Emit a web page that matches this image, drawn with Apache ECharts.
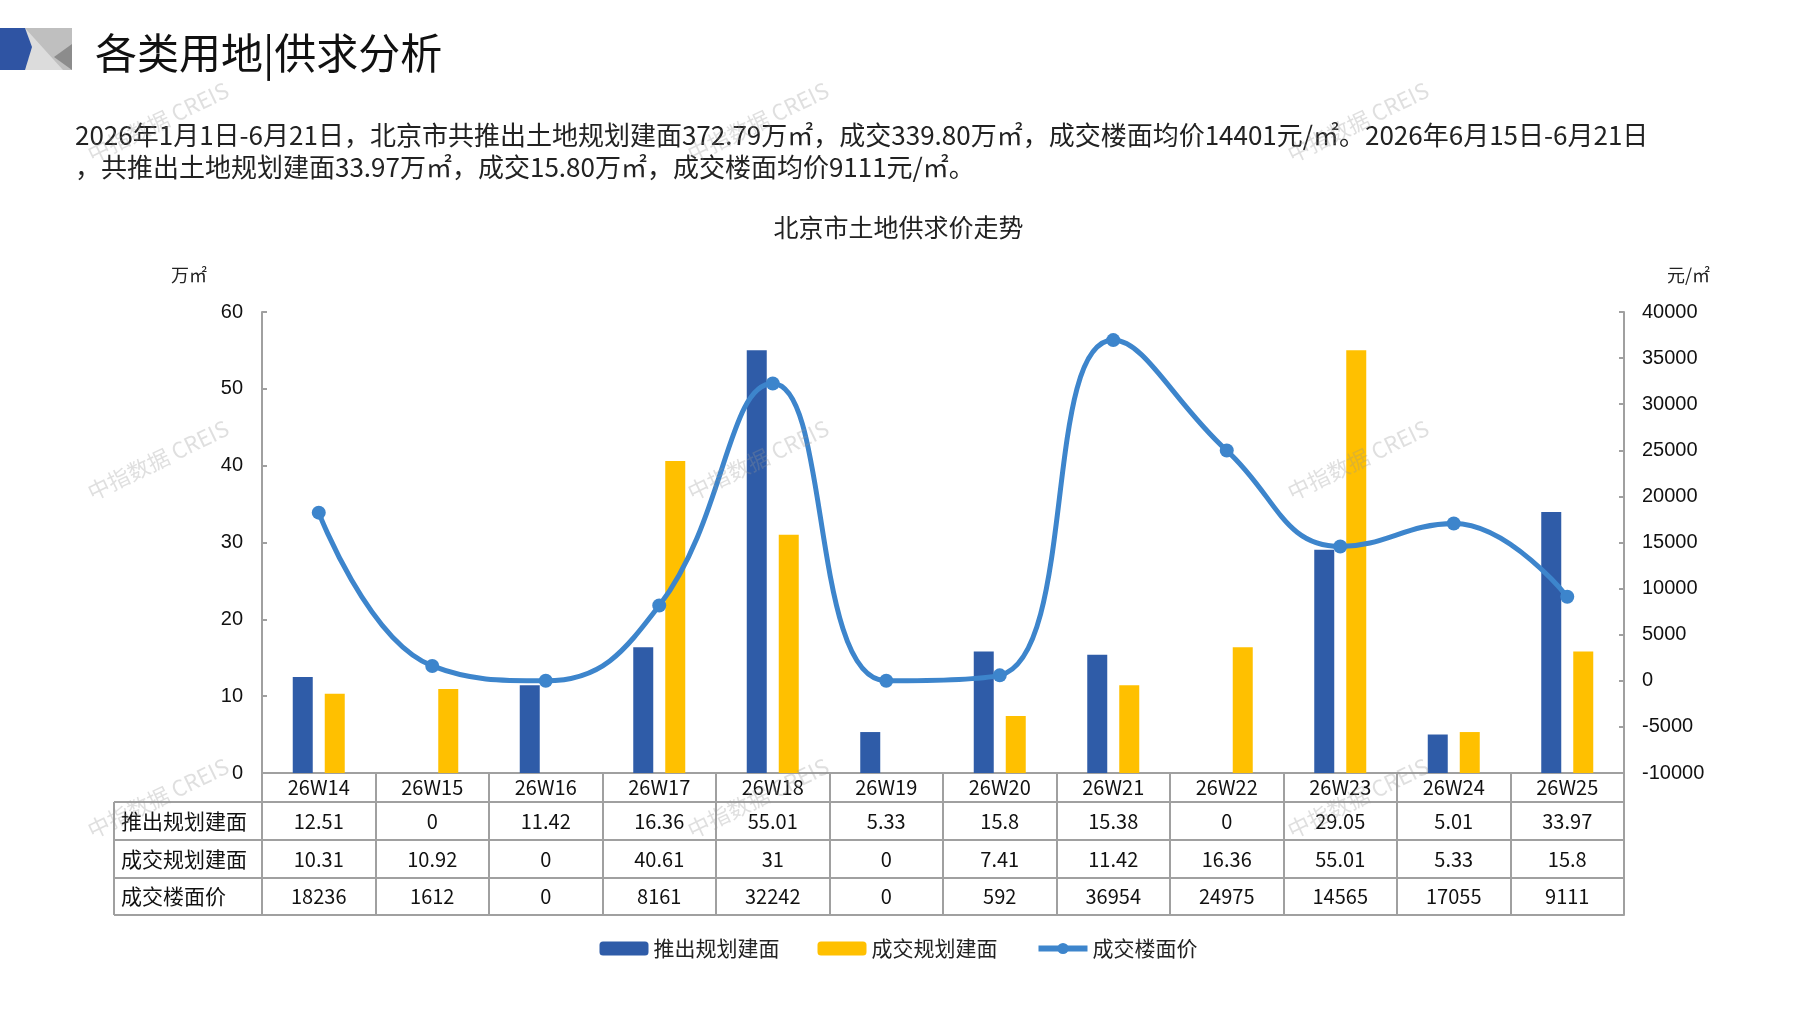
<!DOCTYPE html>
<html>
<head>
<meta charset="utf-8">
<title>北京市土地供求价走势</title>
<script src="https://cdn.jsdelivr.net/npm/echarts@6/dist/echarts.min.js"></script>
<style>
    html, body { margin: 0; padding: 0; background: #fff; }
    #chart { width: 1797px; height: 1010px; }
</style>
</head>
<body>
<div id="chart"></div>
<script>
"use strict";
// 周次
const weeks = ['26W14', '26W15', '26W16', '26W17', '26W18', '26W19', '26W20', '26W21', '26W22', '26W23', '26W24', '26W25'];
// 推出规划建面（万㎡）
const pushArea = [12.51, 0, 11.42, 16.36, 55.01, 5.33, 15.8, 15.38, 0, 29.05, 5.01, 33.97];
// 成交规划建面（万㎡）
const dealArea = [10.31, 10.92, 0, 40.61, 31, 0, 7.41, 11.42, 16.36, 55.01, 5.33, 15.8];
// 成交楼面价（元/㎡）
const dealPrice = [18236, 1612, 0, 8161, 32242, 0, 592, 36954, 24975, 14565, 17055, 9111];
const seriesNames = ['推出规划建面', '成交规划建面', '成交楼面价'];
// 坐标轴刻度
const leftAxisRange = [0, 60, 10];
const rightAxisRange = [-10000, 40000, 5000];

const cjk = '"Noto Sans CJK SC", sans-serif';
const latin = '"Liberation Sans", Arial, sans-serif';
const gray = '#a0a0a0';
const lineBlue = '#3d85cc';
const rowHeights = [29, 38, 38, 37];

(() => {
    let chart = echarts.init(document.getElementById('chart'));

    //数据表：每一行是一条带偏移的类目轴
    let tableRows = [weeks, pushArea, dealArea, dealPrice];
    let xAxes = tableRows.map((row, i) => ({
        type: 'category',
        position: 'bottom',
        offset: rowHeights.slice(0, i).reduce((a, b) => a + b, 0),
        data: row.map(String),
        axisLine: {show: true, onZero: false, lineStyle: {color: gray, width: 2}},
        axisTick: {show: true, interval: 0, length: rowHeights[i], lineStyle: {color: gray, width: 2}},
        axisLabel: {interval: 0, margin: (rowHeights[i] - 20) / 2, fontSize: 20, color: '#111', fontFamily: cjk}
    }));
    xAxes.push({
        type: 'category',
        position: 'bottom',
        offset: rowHeights.reduce((a, b) => a + b, 0),
        data: weeks,
        axisLine: {show: true, onZero: false, lineStyle: {color: gray, width: 2}},
        axisTick: {show: false},
        axisLabel: {show: false}
    });

    //左侧行标题
    let tableTop = 773 + rowHeights[0];
    let graphics = [];
    let y = tableTop;
    graphics.push({type: 'line', shape: {x1: 114, y1: y, x2: 114, y2: 773 + rowHeights.reduce((a, b) => a + b, 0)},
        style: {stroke: gray, lineWidth: 2}});
    for (let i = 0; i < seriesNames.length; ++i) {
        let h = rowHeights[i + 1];
        graphics.push({type: 'line', shape: {x1: 114, y1: y, x2: 262, y2: y}, style: {stroke: gray, lineWidth: 2}});
        graphics.push({type: 'text', x: 121, y: y + h / 2,
            style: {text: seriesNames[i], font: '21px ' + cjk, fill: '#111', verticalAlign: 'middle'}});
        y += h;
    }
    graphics.push({type: 'line', shape: {x1: 114, y1: y, x2: 262, y2: y}, style: {stroke: gray, lineWidth: 2}});

    //左上角装饰块
    graphics.push({type: 'rect', shape: {x: 0, y: 28, width: 72, height: 42}, style: {fill: '#bfbfbf'}});
    graphics.push({type: 'polygon', shape: {points: [[25, 28], [25, 70], [63, 70]]}, style: {fill: '#dcdcdc'}});
    graphics.push({type: 'polygon', shape: {points: [[72, 44], [72, 70], [54, 57]]}, style: {fill: '#8c8c8c'}});
    graphics.push({type: 'polygon', shape: {points: [[0, 28], [25, 28], [32, 47], [25, 70], [0, 70]]}, style: {fill: '#2f54a3'}});

    //水印
    [122, 460, 798].forEach(wy => {
        [158, 758, 1358].forEach(wx => {
            graphics.push({type: 'text', x: wx, y: wy, rotation: 0.45, z: 100,
                style: {text: '中指数据 CREIS', font: '22px ' + cjk, fill: 'rgba(150,150,150,0.3)',
                    align: 'center', verticalAlign: 'middle'}});
        });
    });

    let option = {
        animation: false,
        backgroundColor: '#fff',
        title: [
            {
                text: '各类用地|供求分析',
                left: 90, top: 27,
                textStyle: {fontSize: 42, fontWeight: 'normal', color: '#111', fontFamily: cjk}
            },
            {
                text: '2026年1月1日-6月21日，北京市共推出土地规划建面372.79万㎡，成交339.80万㎡，成交楼面均价14401元/㎡。2026年6月15日-6月21日\n，共推出土地规划建面33.97万㎡，成交15.80万㎡，成交楼面均价9111元/㎡。',
                left: 70, top: 114,
                textStyle: {fontSize: 26, lineHeight: 32, fontWeight: 'normal', color: '#222', fontFamily: cjk}
            },
            {
                text: '北京市土地供求价走势',
                left: 'center', top: 210,
                textStyle: {fontSize: 25, fontWeight: 'normal', color: '#222', fontFamily: cjk}
            }
        ],
        legend: {
            data: [
                seriesNames[0],
                seriesNames[1],
                {name: seriesNames[2], lineStyle: {width: 6}}
            ],
            left: 'center', top: 933,
            itemWidth: 49, itemHeight: 14, itemGap: 38,
            textStyle: {fontSize: 21, color: '#222', fontFamily: cjk}
        },
        grid: {left: 262, right: 173, top: 312, bottom: 237},
        xAxis: xAxes,
        yAxis: [
            {
                type: 'value',
                name: '万㎡',
                nameLocation: 'end',
                nameGap: 28,
                nameTextStyle: {fontSize: 18, color: '#222', fontFamily: cjk, align: 'right', padding: [0, 55, 0, 0]},
                min: leftAxisRange[0], max: leftAxisRange[1], interval: leftAxisRange[2],
                axisLine: {show: true, lineStyle: {color: gray, width: 2}},
                axisTick: {show: true, inside: true, length: 5, lineStyle: {color: gray, width: 2}},
                axisLabel: {fontSize: 20, color: '#111', fontFamily: latin, margin: 19},
                splitLine: {show: false}
            },
            {
                type: 'value',
                name: '元/㎡',
                nameLocation: 'end',
                nameGap: 28,
                nameTextStyle: {fontSize: 18, color: '#222', fontFamily: cjk, align: 'left', padding: [0, 0, 0, 43]},
                min: rightAxisRange[0], max: rightAxisRange[1], interval: rightAxisRange[2],
                axisLine: {show: true, lineStyle: {color: gray, width: 2}},
                axisTick: {show: true, inside: true, length: 5, lineStyle: {color: gray, width: 2}},
                axisLabel: {fontSize: 20, color: '#111', fontFamily: latin, margin: 18, formatter: v => String(v)},
                splitLine: {show: false}
            }
        ],
        series: [
            {
                name: seriesNames[0],
                type: 'bar',
                barWidth: 20,
                barGap: '60%',
                itemStyle: {color: '#2f5ca8'},
                data: pushArea
            },
            {
                name: seriesNames[1],
                type: 'bar',
                barWidth: 20,
                itemStyle: {color: '#ffc000'},
                data: dealArea
            },
            {
                name: seriesNames[2],
                type: 'line',
                yAxisIndex: 1,
                smooth: 0.45,
                symbol: 'circle',
                symbolSize: 14,
                itemStyle: {color: lineBlue},
                lineStyle: {color: lineBlue, width: 5},
                data: dealPrice
            }
        ],
        graphic: graphics
    };
    chart.setOption(option);
})();
</script>
</body>
</html>
